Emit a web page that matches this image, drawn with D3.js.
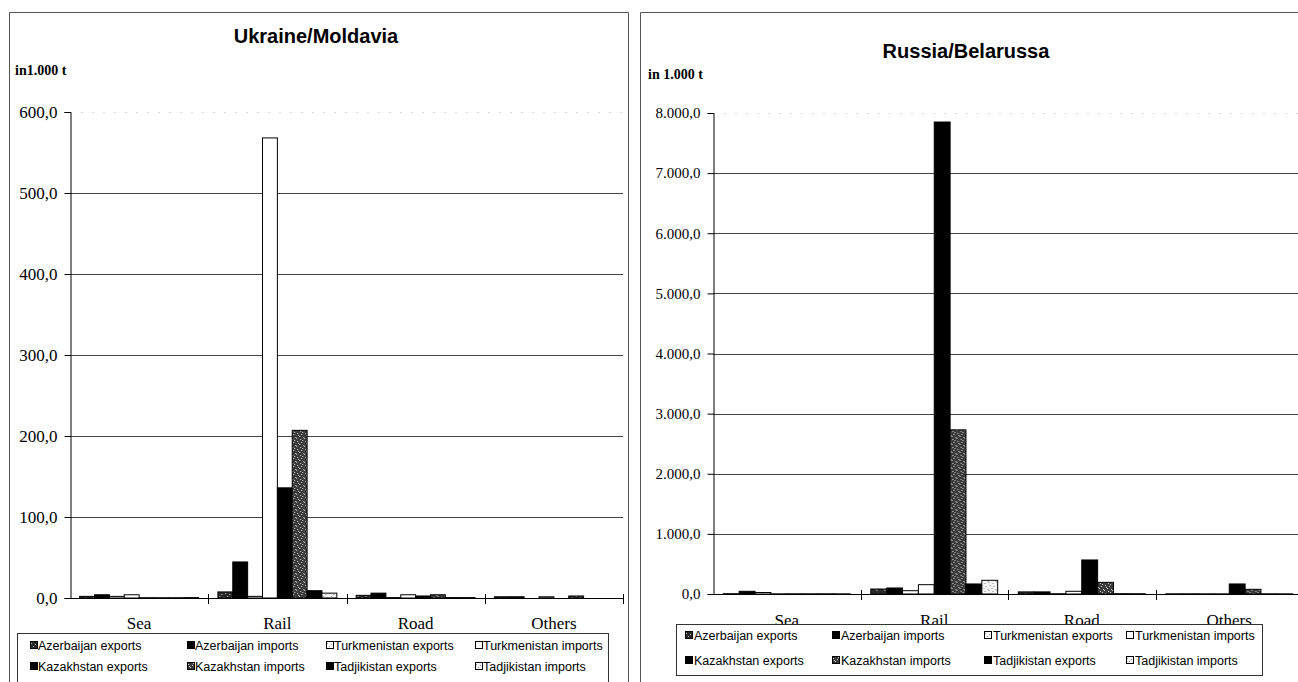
<!DOCTYPE html>
<html>
<head>
<meta charset="utf-8">
<script src="https://cdn.jsdelivr.net/npm/d3@7"></script>
<style>
  html, body { margin: 0; padding: 0; background: #fff; }
  svg { display: block; }
</style>
</head>
<body>
<svg id="chart" width="1298" height="682"></svg>
<script>
// Transport modes on the x axis
const categories = ["Sea", "Rail", "Road", "Others"];

// Flows, in the order the bars appear inside each mode
const seriesNames = [
  "Azerbaijan exports", "Azerbaijan imports",
  "Turkmenistan exports", "Turkmenistan imports",
  "Kazakhstan exports", "Kazakhstan imports",
  "Tadjikistan exports", "Tadjikistan imports"
];

// Ukraine/Moldavia, in 1.000 t (one value per flow)
const ukraineSea    = [2, 4, 2, 4, 0.3, 0.3, 0.3, 0.5];
const ukraineRail   = [7.5, 44.5, 2, 568, 136, 207, 9, 6];
const ukraineRoad   = [3.3, 6, 0.5, 4, 2.5, 4, 0.5, 0.5];
const ukraineOthers = [1.5, 1.5, 0, 1.5, 0, 2.5, 0, 0];

// Russia/Belarussa, in 1.000 t
const russiaSea    = [5, 45, 25, 3, 3, 3, 3, 3];
const russiaRail   = [83, 100, 55, 155, 7850, 2730, 167, 228];
const russiaRoad   = [35, 35, 5, 45, 566, 194, 5, 5];
const russiaOthers = [3, 3, 3, 3, 167, 78, 3, 3];

// Y axis tick values
const ukraineTicks = [0, 100, 200, 300, 400, 500, 600];
const russiaTicks  = [0, 1000, 2000, 3000, 4000, 5000, 6000, 7000, 8000];

const numFmt = d3.formatLocale({ decimal: ",", thousands: ".", grouping: [3], currency: ["", ""] }).format(",.1f");

const svg = d3.select("#chart");
const defs = svg.append("defs");

// Fill patterns imitating monochrome print shadings
function speckle(id, bg, dot, count) {
  const p = defs.append("pattern").attr("id", id)
    .attr("patternUnits", "userSpaceOnUse").attr("width", 8).attr("height", 8);
  p.append("rect").attr("width", 8).attr("height", 8).attr("fill", bg);
  const pts = [[1,1],[5,2],[3,4],[7,5],[0,6],[4,7],[6,0],[2,3]];
  pts.slice(0, count).forEach(([x, y]) => {
    p.append("rect").attr("x", x).attr("y", y).attr("width", 1).attr("height", 1).attr("fill", dot);
  });
  return `url(#${id})`;
}
const fills = [
  speckle("azExp", "#2a2a2a", "#bbbbbb", 5),
  "#000",
  speckle("tuExp", "#ffffff", "#9a9a9a", 3),
  "#fff",
  "#000",
  speckle("kzImp", "#3a3a3a", "#d0d0d0", 8),
  "#000",
  speckle("tjImp", "#f4f4f4", "#8a8a8a", 6)
];

function drawPanel(cfg) {
  const g = svg.append("g");
  const rows = cfg.rows; // one array per category
  const y = d3.scaleLinear().domain([0, cfg.max]).range([cfg.y0, cfg.y1]);
  const x0 = d3.scaleBand().domain(categories).range([cfg.x0, cfg.x1]).padding(0);
  const x1 = d3.scaleBand().domain(seriesNames).range([0, x0.bandwidth()])
    .paddingInner(0).paddingOuter(0.65);

  // gridlines
  g.append("g").selectAll("line").data(cfg.ticks.filter(t => t > 0)).join("line")
    .attr("x1", cfg.x0).attr("x2", cfg.gridEnd)
    .attr("y1", d => Math.round(y(d)) + 0.5).attr("y2", d => Math.round(y(d)) + 0.5)
    .attr("stroke", d => d === cfg.max ? "#d8d8d8" : "#444")
    .attr("stroke-dasharray", d => d === cfg.max ? "2,9" : null)
    .attr("stroke-width", 1);

  // bars
  const groups = g.append("g").selectAll("g").data(categories).join("g")
    .attr("transform", c => `translate(${x0(c)},0)`);
  groups.selectAll("rect")
    .data((c, i) => rows[i].map((v, j) => ({ name: seriesNames[j], value: v, idx: j })))
    .join("rect")
    .attr("x", d => x1(d.name))
    .attr("width", x1.bandwidth())
    .attr("y", d => y(d.value))
    .attr("height", d => Math.max(0, cfg.y0 - y(d.value)))
    .attr("fill", d => fills[d.idx])
    .attr("stroke", "#000").attr("stroke-width", 1);

  // y axis
  const yAxis = d3.axisLeft(y).tickValues(cfg.ticks).tickFormat(numFmt)
    .tickSize(6).tickPadding(cfg.tickPad);
  const ya = g.append("g").attr("transform", `translate(${cfg.x0 + 0.5},0)`).call(yAxis);
  ya.select(".domain").attr("stroke", "#000");
  ya.selectAll(".tick line").attr("stroke", "#000");
  ya.selectAll("text").attr("font-family", "Liberation Serif, Times New Roman, serif")
    .attr("font-size", cfg.tickFont).attr("fill", "#000");

  // x axis baseline with tick marks between categories
  g.append("line").attr("x1", cfg.x0).attr("x2", cfg.gridEnd)
    .attr("y1", cfg.y0 + 0.5).attr("y2", cfg.y0 + 0.5).attr("stroke", "#000");
  const bounds = categories.map(c => x0(c)).concat([cfg.x1]).slice(1);
  g.append("g").selectAll("line").data(bounds.filter(b => b <= cfg.gridEnd)).join("line")
    .attr("x1", d => Math.round(d) + 0.5).attr("x2", d => Math.round(d) + 0.5)
    .attr("y1", cfg.y0 - 4).attr("y2", cfg.y0 + 6).attr("stroke", "#000");

  // category labels
  g.append("g").selectAll("text").data(categories).join("text")
    .attr("x", c => x0(c) + x0.bandwidth() / 2)
    .attr("y", cfg.catY)
    .attr("text-anchor", "middle")
    .attr("font-family", "Liberation Serif, Times New Roman, serif")
    .attr("font-size", cfg.catFont)
    .text(c => c);

  // title and unit
  g.append("text").attr("x", cfg.titleX).attr("y", cfg.titleY)
    .attr("text-anchor", "middle")
    .attr("font-family", "Liberation Sans, Arial, sans-serif")
    .attr("font-weight", "bold").attr("font-size", 20)
    .text(cfg.title);
  g.append("text").attr("x", cfg.unitX).attr("y", cfg.unitY)
    .attr("font-family", "Liberation Serif, Times New Roman, serif")
    .attr("font-weight", "bold").attr("font-size", cfg.unitFont)
    .text(cfg.unit);

  // legend
  const L = cfg.legend;
  g.append("rect").attr("x", L.x + 0.5).attr("y", L.y + 0.5)
    .attr("width", L.w).attr("height", L.h)
    .attr("fill", "#fff").attr("stroke", "#333");
  const items = g.append("g").selectAll("g").data(seriesNames).join("g")
    .attr("transform", (d, i) => `translate(${L.cols[i % 4]},${L.rowsY[Math.floor(i / 4)]})`);
  items.append("rect").attr("x", 0.5).attr("y", -8.5).attr("width", 7).attr("height", 7)
    .attr("fill", (d, i) => fills[i]).attr("stroke", "#000");
  items.append("text").attr("x", L.textOff).attr("y", 0)
    .attr("font-family", "Liberation Sans, Arial, sans-serif")
    .attr("font-size", 12.5)
    .text(d => d);
}

// panel frames
svg.append("path").attr("d", "M9.5,682 V12.5 H628.5 V682").attr("fill", "none").attr("stroke", "#555");
svg.append("path").attr("d", "M640.5,682 V12.5 H1298").attr("fill", "none").attr("stroke", "#555");

drawPanel({
  title: "Ukraine/Moldavia", titleX: 316, titleY: 43,
  unit: "in1.000 t", unitX: 15, unitY: 75, unitFont: 14,
  rows: [ukraineSea, ukraineRail, ukraineRoad, ukraineOthers],
  max: 600, ticks: ukraineTicks,
  x0: 70, x1: 623, gridEnd: 623, y0: 598, y1: 112,
  tickFont: 17, tickPad: 7, catFont: 17, catY: 629,
  legend: { x: 17, y: 633, w: 591, h: 60, cols: [30, 187, 326, 475], rowsY: [650, 671], textOff: 8 }
});

drawPanel({
  title: "Russia/Belarussa", titleX: 966, titleY: 58,
  unit: "in 1.000 t", unitX: 648, unitY: 79, unitFont: 14,
  rows: [russiaSea, russiaRail, russiaRoad, russiaOthers],
  max: 8000, ticks: russiaTicks,
  x0: 713, x1: 1303, gridEnd: 1298, y0: 594, y1: 113,
  tickFont: 15, tickPad: 7, catFont: 17, catY: 626,
  legend: { x: 676, y: 624, w: 586, h: 51, cols: [685, 832, 984, 1126], rowsY: [640, 665], textOff: 9 }
});
</script>
</body>
</html>
